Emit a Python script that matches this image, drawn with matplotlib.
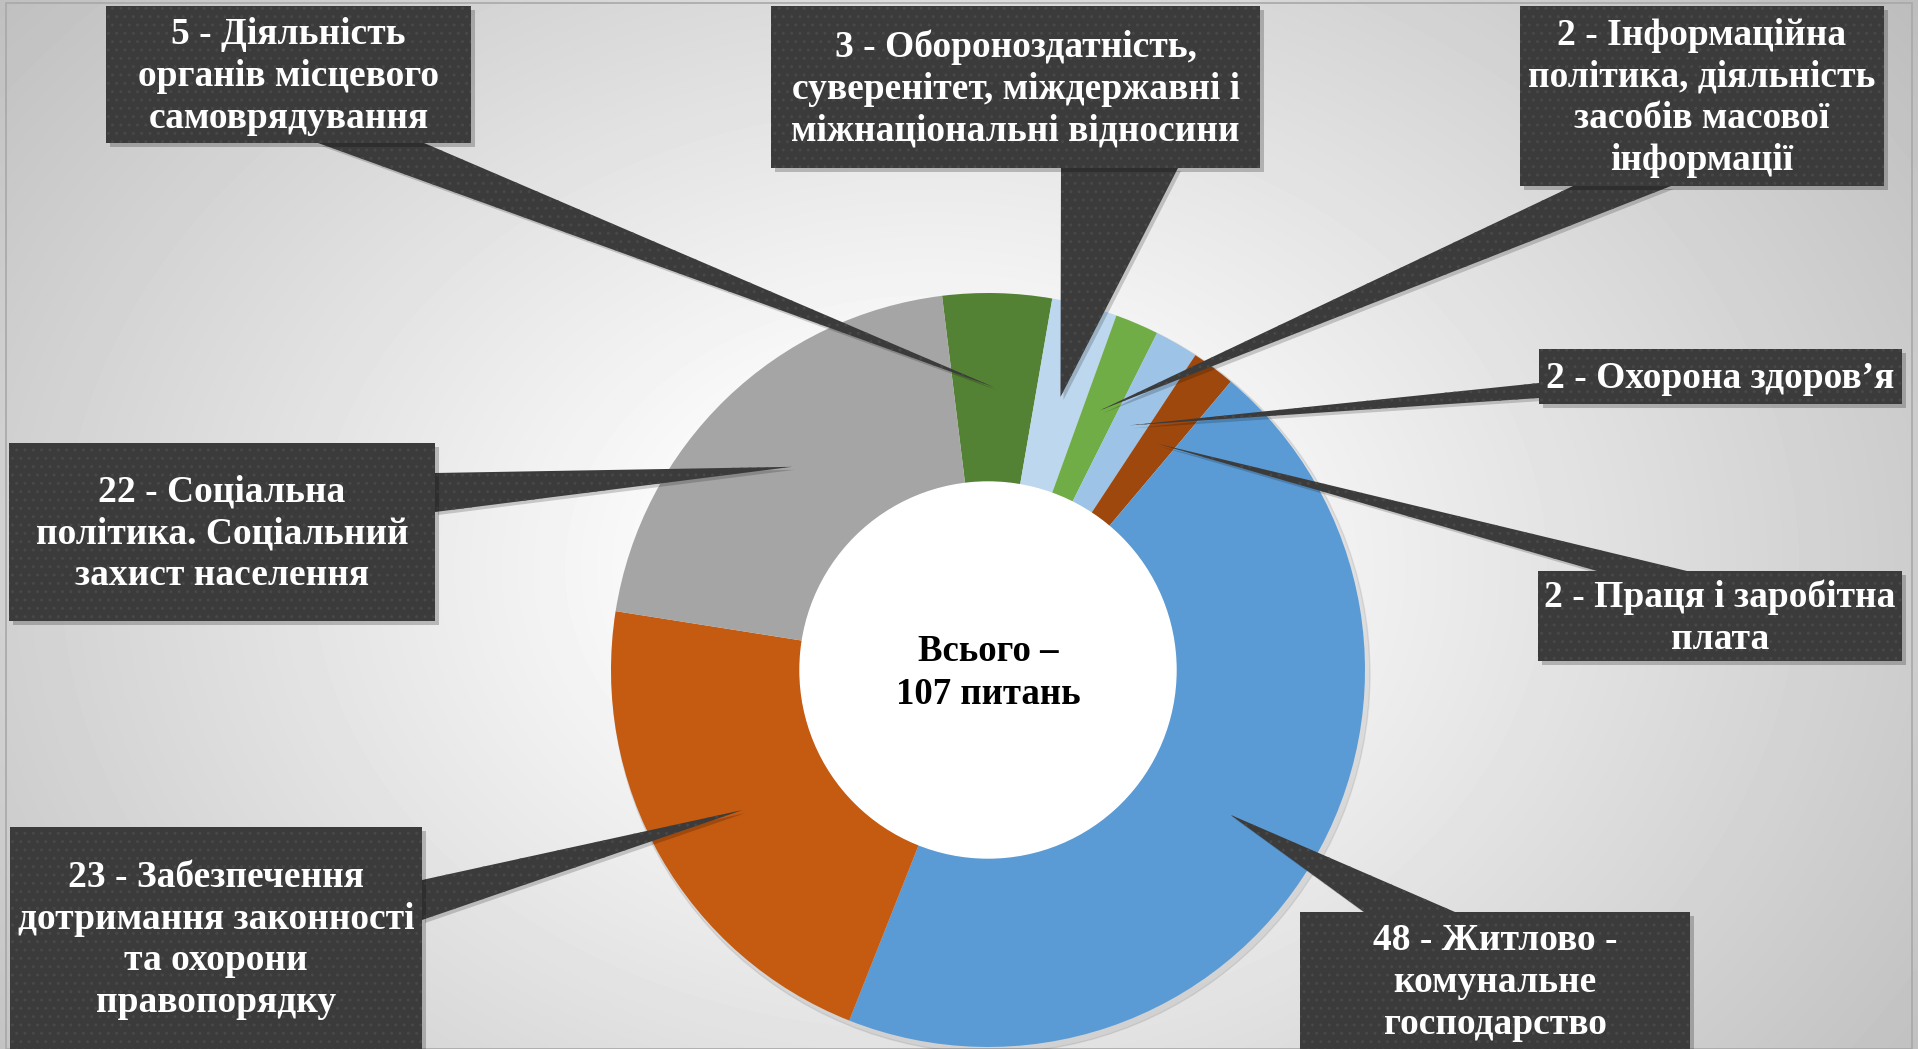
import matplotlib
matplotlib.use('Agg')
import matplotlib.pyplot as plt
import numpy as np
from matplotlib.patches import Rectangle, Polygon, Circle

W, H = 1918, 1049

# slices clockwise, starting from the top
values = [5, 3, 2, 2, 2, 48, 23, 22]
colors = ['#548235', '#BDD7EE', '#70AD47', '#9DC3E6', '#9E480E', '#5B9BD5', '#C55A11', '#A5A5A5']
labels = [
    "5 - Діяльність\nорганів місцевого\nсамоврядування",
    "3 - Обороноздатність,\nсуверенітет, міждержавні і\nміжнаціональні відносини",
    "2 - Інформаційна\nполітика, діяльність\nзасобів масової\nінформації",
    "2 - Охорона здоров’я",
    "2 - Праця і заробітна\nплата",
    "48 - Житлово -\nкомунальне\nгосподарство",
    "23 - Забезпечення\nдотримання законності\nта охорони\nправопорядку",
    "22 - Соціальна\nполітика. Соціальний\nзахист населення",
]
total_text = "Всього –\n107 питань"

# callout boxes, pixels from top-left: (x0, y0, x1, y1)
boxes = [
    (106, 6, 471, 143),
    (771, 6, 1260, 168),
    (1520, 6, 1884, 186),
    (1539, 349, 1902, 404),
    (1538, 571, 1902, 661),
    (1300, 912, 1690, 1049),
    (10, 827, 422, 1049),
    (9, 443, 435, 621),
]
# where the pointer leaves the box (two points on the box edge)
bases = [
    ((318, 143), (424, 143)),
    ((1061, 168), (1178, 168)),
    ((1573, 186), (1671, 186)),
    ((1539, 383), (1539, 398)),
    ((1597, 571), (1687, 571)),
    ((1364, 912), (1455, 912)),
    ((422, 880), (422, 920)),
    ((435, 473), (435, 512)),
]

cx, cy = 988, 670
r_out, r_in = 377, 188

fig = plt.figure(figsize=(W / 100, H / 100), dpi=100)
ax = fig.add_axes([0, 0, 1, 1])

def fy(y):
    return H - y

# soft radial background
gx, gy = np.meshgrid(np.linspace(0, W, 480), np.linspace(0, H, 263))
d = np.sqrt(((gx - 930) / 960) ** 2 + ((gy - 480) / 720) ** 2)
shade = 1 - 0.19 * np.clip((d - 0.2) / 0.8, 0, 1.4)
ax.imshow(shade, cmap='gray', vmin=0, vmax=1, extent=(0, W, H, 0),
          interpolation='bilinear', zorder=0, origin='upper')
ax.add_patch(Rectangle((6, 0), W - 12, H - 3, fill=False, edgecolor='#a8a8a8', lw=1.2, zorder=1))

# donut
wedges, _ = ax.pie(values, colors=colors, startangle=97, counterclock=False,
                   radius=r_out, center=(cx, fy(cy)),
                   wedgeprops=dict(width=r_out - r_in, edgecolor='none'))
for w in wedges:
    w.set_zorder(3)
ax.add_patch(Circle((cx + 3, fy(cy) - 4), r_out + 2, color='black', alpha=0.08, zorder=2))
ax.add_patch(Circle((cx, fy(cy)), r_in, color='white', zorder=4))
ax.text(cx, fy(cy + 3), total_text, ha='center', va='center', fontsize=26.5, weight='bold',
        family=['Liberation Serif', 'DejaVu Serif'], color='black', linespacing=1.3, zorder=5)

r_mid = (r_out + r_in) / 2
box_col = '#3b3b3b'
for w, lab, (x0, y0, x1, y1), (b1, b2) in zip(wedges, labels, boxes, bases):
    th = np.deg2rad((w.theta1 + w.theta2) / 2)
    tip = (cx + r_mid * np.cos(th), fy(cy) + r_mid * np.sin(th))
    pts = [(b1[0], fy(b1[1])), tip, (b2[0], fy(b2[1]))]
    ax.add_patch(Polygon([(p[0] + 3, p[1] - 3) for p in pts], closed=True, color='black',
                         alpha=0.18, lw=0, zorder=6))
    ax.add_patch(Polygon(pts, closed=True, facecolor=box_col, edgecolor='#484848',
                         lw=0, hatch='..', zorder=7))
    ax.add_patch(Rectangle((x0 + 4, fy(y1) - 4), x1 - x0, y1 - y0, color='black',
                           alpha=0.22, lw=0, zorder=8))
    ax.add_patch(Rectangle((x0, fy(y1)), x1 - x0, y1 - y0, facecolor=box_col,
                           edgecolor='#484848', lw=0, hatch='..', zorder=9))
    ax.text((x0 + x1) / 2, fy((y0 + y1) / 2 + 2), lab, ha='center', va='center', fontsize=27,
            weight='bold', family=['Liberation Serif', 'DejaVu Serif'], color='white',
            linespacing=1.25, zorder=10)

ax.set_xlim(0, W)
ax.set_ylim(0, H)
ax.set_aspect('auto')
ax.axis('off')

fig.savefig('out.png', dpi=100)
